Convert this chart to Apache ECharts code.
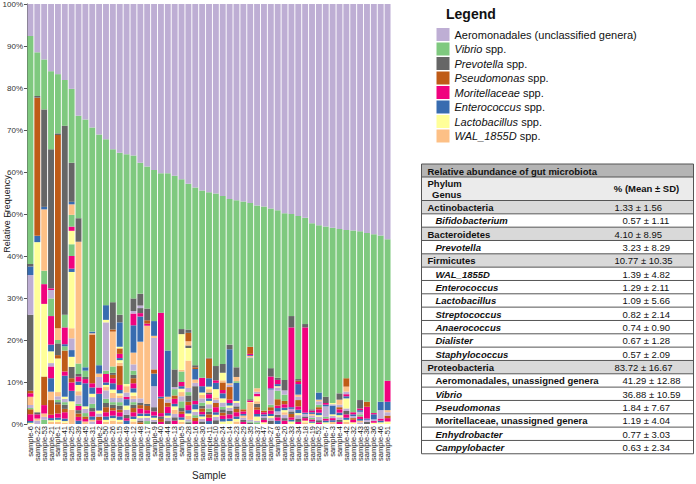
<!DOCTYPE html>
<html><head><meta charset="utf-8">
<script src="https://cdn.jsdelivr.net/npm/echarts@6/dist/echarts.min.js"></script>
<style>html,body{margin:0;padding:0;background:#fff}#c{width:696px;height:484px}</style>
</head><body><div id="c"></div>
<script>
const FF = '"Liberation Sans", Arial, Helvetica, sans-serif';
const samples = ['sample-6','sample-22','sample-53','sample-21','sample-1','sample-41','sample-25','sample-39','sample-45','sample-31','sample-2','sample-50','sample-26','sample-15','sample-49','sample-12','sample-48','sample-17','sample-9','sample-40','sample-44','sample-13','sample-5','sample-28','sample-16','sample-30','sample-11','sample-10','sample-24','sample-14','sample-23','sample-29','sample-35','sample-37','sample-47','sample-27','sample-8','sample-20','sample-33','sample-34','sample-18','sample-19','sample-52','sample-7','sample-3','sample-4','sample-42','sample-32','sample-43','sample-38','sample-36','sample-46','sample-51'];
const legendTaxa = ['Aeromonadales (unclassified genera)','Vibrio spp.','Prevotella spp.','Pseudomonas spp.','Moritellaceae spp.','Enterococcus spp.','Lactobacillus spp.','WAL_1855D spp.'];
const palette = ['#BEAED4','#7FC97F','#666666','#BF5B17','#F0027F','#386CB0','#FFFF99','#FDC086'];
const yAxisTitle = 'Relative Frequency';
// per-sample relative abundance (%) of taxa, ordered from top of stack downward
const s6 = [7.6, 54.3, .6, 0, 0, 2.0, 0, 0, 9.5, 0, 18.1, .6, .8, 0, 0, 2.0, .7, .3, 0, 1.2, 1.6, .4, .3];
const s22 = [11.5, 10.4, .4, 32.9, 0, 1.5, 40.5, 0, 0, 0, .5, 0, 1.0, 0, 0, .5, .8];
const s53 = [13.2, 11.9, 23.2, 0, 0, .6, 0, 14.6, 0, 3.2, 0, 0, 4.7, 0, 17.3, 0, 0, 0, 0, 6.8, 2.0, 0, 0, .8, .7, 1.0];
const s21 = [16.0, 18.6, 33.1, 0, .4, 0, 0, 0, 2.0, 4.2, 0, 0, 6.8, 1.6, 2.8, 0, .8, 0, 0, 0, 2.8, 3.2, 0, 2.0, 0, 0, 0, 3.5, .8, .5, .4, .5];
const s1 = [16.7, 14.1, .4, 46.0, 0, 0, 0, 2.8, 0, .8, 2.8, .8, 0, 0, 8.0, 1.0, .8, .6, .5, 2.2, 1.0, .5, .5, .5];
const s41 = [18.1, 10.9, 45.0, 0, 0, 0, 0, 0, 0, 3.0, 0, 0, 4.0, .5, 0, 0, 0, 1.0, 0, 5.0, 1.0, 5.0, .5, 0, .8, .6, 1.0, .8, 1.5, .6, .4, .3];
const s25 = [20.2, 17.6, 9.3, 0, 0, .6, 0, 2.5, 0, 2.8, 0, 0, 1.0, 0, 3.2, 0, 0, 2.8, 0, 0, 3.0, .8, 13.4, 2.4, 2.8, 0, 0, 0, 0, 1.6, 2.4, 0, 0, 0, 2.7, 1.0, 2.0, 2.5, 2.0, 3.4];
const s39 = [26.6, 24.4, 5.6, 0, 0, 0, 0, 29.0, 0, 2.5, .6, 0, 1.2, .8, 1.5, 1.0, 2.0, .5, 0, 0, 1.0, 0, 0, 0, 0, 0, .8, .8, .9, .8];
const s45 = [27.5, 59.0, 0, 0, 0, .8, 0, 0, 0, 1.5, .5, 0, 1.0, 5.5, .6, 0, 1.0, .8, 0, .6, .6, 0, 0, .6];
const s31 = [29.4, 48.6, 0, 0, 0, .4, 0, .3, 0, 0, 0, 11.6, 1.0, 1.5, .8, 0, 1.6, 1.0, .8, 0, 1.2, .8, 0, .4, .6];
const s2 = [31.1, 54.9, 0, 0, 0, 2.0, 0, .8, 2.5, 0, 0, 0, 1.5, 4.0, .7, 0, .8, 0, 0, .8, .9];
const s50 = [32.2, 39.5, 0, 0, 0, 3.5, .6, 0, 11.5, .8, 0, 0, 2.0, .6, .5, .8, 2.0, 1.0, 1.0, 1.2, 1.0, .8, .5, .5];
const s26 = [34.6, 36.4, 6.5, .5, 0, 0, 0, 8.3, 0, 1.5, .5, .8, 1.2, 1.5, .8, 1.2, 1.0, .6, .8, .6, 1.2, .6, .6, .8];
const s15 = [35.4, 38.6, 1.8, 0, 0, 5.8, .4, 0, 0, 0, 0, 1.3, 1.0, .5, .6, .8, 0, 0, 0, 4.5, 1.2, .8, .5, .6, 1.0, .8, 1.0, .6, 1.0, .8, .5, .5];
const s49 = [35.8, 54.7, 0, 0, 0, 0, .5, 1.5, 1.0, 0, 0, 0, .6, 1.5, 1.0, 0, 1.2, 0, .8, 0, .6, .8];
const s12 = [36.1, 34.0, 3.0, 0, 0, 0, 0, 0, .6, 0, 0, 0, 2.8, 6.5, 0, 2.8, 1.5, 1.0, .8, 1.2, 1.2, 1.0, .8, .7, .8, .6, .8, 1.0, 1.0, .6, .6, .6];
const s48 = [37.8, 31.2, 2.8, 0, 0, 0, 0, 0, .6, 0, 1.2, 0, .8, 6.0, 0, 13.5, 1.0, 0, .6, .8, 1.2, .6, .5, 0, .6, 0, .4, .4];
const s17 = [38.7, 33.8, 2.8, .8, .5, 0, 0, 18.6, 0, 0, .5, 1.0, .8, .6, .4, 0, .8, .7];
const s9 = [39.5, 36.0, 0, 0, 0, 3.5, 0, .5, 7.5, 0, 0, 1.0, 0, 3.0, 0, 0, 5.0, 0, 1.0, 0, 1.0, .5, .5, 0, .5, 0, .5];
const s40 = [40.3, 33.2, 0, 0, 20.0, .4, 0, 0, 0, 0, 0, 3.5, .8, 0, 0, 0, 0, 0, .6, .7, .5];
const s44 = [40.3, 42.2, 0, 0, 0, 11.0, 0, .6, .8, 0, 0, 1.0, 1.5, .6, .5, 0, .8, 0, .7];
const s13 = [40.9, 46.1, 4.2, 0, 0, 0, 0, 0, .5, 1.5, 0, .8, 1.2, .6, .8, 1.0, .8, 0, .8, 0, .8];
const s5 = [41.7, 35.7, 1.2, 0, 0, 0, 8.5, .4, 0, 2.5, 0, 0, 1.0, .6, .8, 1.0, 1.2, 1.6, .8, .6, .8, .6, .5, .5];
const s28 = [42.8, 34.7, .8, 2.0, 0, 0, 0, 1.0, 0, 0, .6, 0, 0, 0, 3.0, 6.5, 1.0, .8, 1.5, .8, 1.2, .8, .6, .8, .5, .2, .4];
const s16 = [43.7, 42.3, .5, .4, 0, 2.5, 0, .8, .8, 0, 3.5, 0, .8, 1.2, .6, 0, .8, .6, 0, .8, .7];
const s30 = [44.4, 44.6, 0, 0, 2.0, 1.5, .6, .8, 1.0, .8, .6, .8, .6, .5, .6, 0, .6, 0, .6];
const s11 = [44.8, 39.4, .2, 4.7, 0, 2.0, .6, .8, 0, 0, .4, 0, 1.0, .6, .8, 0, 1.0, .8, .6, .8, .8, .7];
const s10 = [45.1, 41.1, 3.4, 0, .6, 1.5, 2.0, .5, .8, 0, 0, 1.0, 1.2, .6, .5, 0, .8, 0, .9];
const s24 = [45.7, 40.0, 2.1, 0, 0, 0, 1.8, .5, 0, 0, 0, 1.8, .8, 1.2, 1.0, 0, 1.0, .6, .8, .7, .8, .6, .6];
const s14 = [46.4, 34.7, 1.1, 0, 0, 8.1, 0, .4, .5, 0, 0, 3.0, .8, .6, .5, 0, .8, 0, .8, 0, 1.0, .6, .7];
const s23 = [46.7, 39.8, 2.3, 0, 0, 0, 0, 1.0, 0, .4, 0, 0, 0, 4.3, .5, 0, .8, 0, .6, .8, 1.0, .6, .6, .6];
const s29 = [47.0, 49.5, 0, .5, .6, .4, 0, .5, .5, 0, .5, 0, .5];
const s35 = [47.4, 34.2, 0, 1.7, .3, .2, 0, .3, .2, 9.8, .3, 0, .4, 0, .2, 4.0, .4, .3, .3];
const s37 = [48.0, 43.5, 0, 0, 0, 0, 0, .8, .5, 0, 0, 0, .6, 0, 1.2, .6, 0, 0, .8, .6, 1.0, .6, 1.0, 0, .4, .4];
const s47 = [48.2, 48.6, 0, .4, .5, .4, 0, 0, .5, 0, .4, 0, .6, 0, .4];
const s27 = [48.7, 38.0, 2.0, 0, 2.8, .3, 0, 0, 3.6, .6, 0, .8, .8, .5, .5, 0, .6, 0, .8];
const s8 = [49.1, 39.9, .5, 0, 1.0, .5, .3, 0, .8, 2.0, 0, 1.5, .6, .8, 0, 0, .8, 0, .6, 0, .8, .8];
const s20 = [49.8, 39.7, 2.5, 0, 0, 0, 0, 0, 1.0, 1.5, 0, .8, .8, .6, .5, .6, .8, 0, .6, 0, .8];
const s33 = [50.0, 24.3, 2.7, 0, 19.0, .4, 0, 0, .6, 0, .6, .8, .6, .4, .6];
const s34 = [50.5, 38.8, .4, .3, .5, 2.5, 0, .5, .8, 0, 0, 1.5, .8, .8, .5, 0, .8, 0, .8, 0, .5];
const s18 = [50.9, 25.3, .8, 0, 20.3, .3, 0, 0, .6, 0, .4, 0, .6, 0, .4, .4];
const s19 = [52.2, 44.3, .3, 0, .4, .4, 0, .4, .5, .4, 0, 0, .5, .3, .3];
const s52 = [52.7, 39.8, 0, 0, 0, 1.7, 0, .4, .8, .6, 0, .5, .8, .6, .4, 0, .8, 0, .5, 0, .4];
const s7 = [53.0, 40.5, 1.5, 0, .4, .4, 0, 0, 2.5, .4, 0, 0, .5, .4, .4];
const s3 = [53.3, 41.7, 0, 0, 0, 0, .3, 0, .3, 0, 0, 0, 0, 2.1, .4, 0, .5, 0, 0, 0, .5, .4, 0, .5];
const s4 = [53.6, 39.1, 1.5, 0, 0, 0, 0, 1.2, .6, 0, 0, .5, .8, .6, .5, 0, .6, 0, .5, 0, .5];
const s42 = [53.8, 35.3, 0, 2.0, 0, 0, 0, 1.2, .6, 0, 0, 0, .5, .5, 2.4, 0, .6, 0, .8, 0, .8, .5, .5, .5];
const s32 = [53.9, 43.3, 0, 0, .5, .4, 0, 0, .5, 0, 0, .4, .6, 0, .4];
const s43 = [54.1, 40.2, 2.0, 0, .4, .4, 0, 0, .6, .5, 0, 0, .6, .4, 0, .4, .4];
const s38 = [54.5, 40.2, 0, 1.2, 2.8, .3, 0, 0, .5, 0, .5];
const s36 = [54.8, 42.6, 0, 0, .3, 1.2, 0, 0, .4, 0, 0, 0, .4, 0, .3];
const s46 = [55.1, 39.6, 0, 0, 0, 2.0, 0, 0, 2.0, 0, 0, 0, .5, .4, .4];
const s51 = [56.0, 33.7, 0, 0, 5.0, 2.0, 0, .5, .8, 0, 0, .6, .8, 0, .6];
const sampleRows = [s6,s22,s53,s21,s1,s41,s25,s39,s45,s31,s2,s50,s26,s15,s49,s12,s48,s17,s9,s40,s44,s13,s5,s28,s16,s30,s11,s10,s24,s14,s23,s29,s35,s37,s47,s27,s8,s20,s33,s34,s18,s19,s52,s7,s3,s4,s42,s32,s43,s38,s36,s46,s51];

// table
const tableTitle = 'Relative abundance of gut microbiota';
const rowNames = ['Actinobacteria','Bifidobacterium','Bacteroidetes','Prevotella','Firmicutes','WAL_1855D','Enterococcus','Lactobacillus','Streptococcus','Anaerococcus','Dialister','Staphylococcus','Proteobacteria','Aeromonadales, unassigned genera','Vibrio','Pseudomonas','Moritellaceae, unassigned genera','Enhydrobacter','Campylobacter'];
const rowMeans = ['1.33','0.57','4.10','3.23','10.77','1.39','1.29','1.09','0.82','0.74','0.67','0.57','83.72','41.29','36.88','1.84','1.19','0.77','0.63'];
const rowSDs = ['1.56','1.11','8.95','8.29','10.35','4.82','2.11','5.66','2.14','0.90','1.28','2.09','16.67','12.88','10.59','7.67','4.04','3.03','2.34'];
const rowLevel = ['phylum','genus','phylum','genus','phylum','genus','genus','genus','genus','genus','genus','genus','phylum','genus','genus','genus','genus','genus','genus'];

const nTaxa = 40;
const taxonNames = [];
for (let i = 0; i < nTaxa; i++) taxonNames.push(i < 8 ? legendTaxa[i] : 'Other taxon ' + (i + 1));
const series = [];
for (let i = nTaxa - 1; i >= 0; i--) {
  series.push({
    name: taxonNames[i], type: 'bar', stack: 'total', barCategoryGap: '14%',
    itemStyle: { color: palette[i % 8] },
    emphasis: { disabled: true },
    data: sampleRows.map(r => r[i] || 0)
  });
}

// table graphics
const X0 = 421.5, X1 = 693.5, YT = 164, YH = 177, YD = 200.5, RH = 13.33;
const els = [];
els.push({type:'rect', shape:{x:X0, y:YT, width:X1-X0, height:YH-YT}, style:{fill:'#b4b4b4'}});
els.push({type:'rect', shape:{x:X0, y:YH, width:X1-X0, height:YD-YH}, style:{fill:'#ebebeb'}});
rowNames.forEach((n, k) => {
  els.push({type:'rect', shape:{x:X0, y:YD+k*RH, width:X1-X0, height:RH}, style:{fill: rowLevel[k]==='phylum' ? '#d9d9d9' : '#ffffff'}});
});
const hl = [YT, YH, YD];
for (let k = 1; k <= rowNames.length; k++) hl.push(YD + k*RH);
hl.forEach(y => els.push({type:'line', shape:{x1:X0, y1:y, x2:X1, y2:y}, style:{stroke:'#555', lineWidth:1}}));
els.push({type:'line', shape:{x1:X0, y1:YT, x2:X0, y2:YD+rowNames.length*RH}, style:{stroke:'#555', lineWidth:1}});
els.push({type:'line', shape:{x1:X1, y1:YT, x2:X1, y2:YD+rowNames.length*RH}, style:{stroke:'#555', lineWidth:1}});
const txt = (s, x, y, font, align) => ({type:'text', x:x, y:y, style:{text:s, font:font, fill:'#111', textAlign:align||'left', textVerticalAlign:'middle'}});
const FB = 'bold 9.5px ' + FF, FBI = 'italic bold 9.5px ' + FF, FN = '9.5px ' + FF;
els.push(txt(tableTitle, 427.5, (YT+YH)/2+0.5, FB));
els.push(txt('Phylum', 427.5, 183.5, FB));
els.push(txt('Genus', 432, 194.5, FB));
els.push(txt('% (Mean \u00b1 SD)', 646.5, 188.5, FB, 'center'));
rowNames.forEach((n, k) => {
  const cy = YD + k*RH + RH/2 + 0.3;
  const ph = rowLevel[k] === 'phylum';
  const font = ph ? FB : (n.indexOf('unassigned') >= 0 ? FB : FBI);
  els.push(txt(n, ph ? 427.5 : 435.5, cy, font));
  els.push(txt(rowMeans[k] + ' \u00b1 ' + rowSDs[k], ph ? 614.5 : 622.5, cy, FN));
});
// y-axis title (vertical)
els.push({type:'text', x:6.5, y:214, rotation:Math.PI/2,
  style:{text:yAxisTitle, font:'9px ' + FF, fill:'#222', textAlign:'center', textVerticalAlign:'middle'}});

const chart = echarts.init(document.getElementById('c'), null, {renderer:'svg', width:696, height:484});
chart.setOption({
  animation: false,
  backgroundColor: '#ffffff',
  textStyle: { fontFamily: FF },
  title: { text: 'Legend', left: 446, top: 7, padding: 0, textStyle: { fontSize: 14, fontWeight: 'bold', color: '#111', fontFamily: FF } },
  legend: {
    data: legendTaxa, orient: 'vertical', left: 436.5, top: 28, padding: 0,
    itemWidth: 13, itemHeight: 13, itemGap: 1.5, icon: 'rect', selectedMode: false,
    textStyle: { fontSize: 11, color: '#111', fontFamily: FF,
      rich: { i: { fontStyle: 'italic', fontSize: 11, color: '#111', fontFamily: FF } } },
    formatter: function (name) {
      const m = name.match(/^(\S+) spp\.$/);
      return m ? '{i|' + m[1] + '} spp.' : name;
    }
  },
  grid: { left: 27, right: 305, top: 4, bottom: 60, containLabel: false, outerBoundsMode: 'none' },
  xAxis: {
    type: 'category', data: samples,
    axisLabel: { rotate: 90, interval: 0, fontSize: 7.5, margin: 2, color: '#222', fontFamily: FF },
    axisTick: { show: false }, axisLine: { show: false },
    name: 'Sample', nameLocation: 'middle', nameGap: 46,
    nameTextStyle: { fontSize: 10, color: '#222', fontFamily: FF }
  },
  yAxis: {
    type: 'value', min: 0, max: 100, interval: 10,
    axisLabel: { formatter: '{value}%', fontSize: 8, color: '#333', margin: 4, fontFamily: FF },
    axisLine: { show: true, lineStyle: { color: '#555', width: 1 } },
    axisTick: { show: true, length: 3, lineStyle: { color: '#555' } },
    splitLine: { show: false }
  },
  graphic: { elements: els },
  series: series
});
</script>
</body></html>
